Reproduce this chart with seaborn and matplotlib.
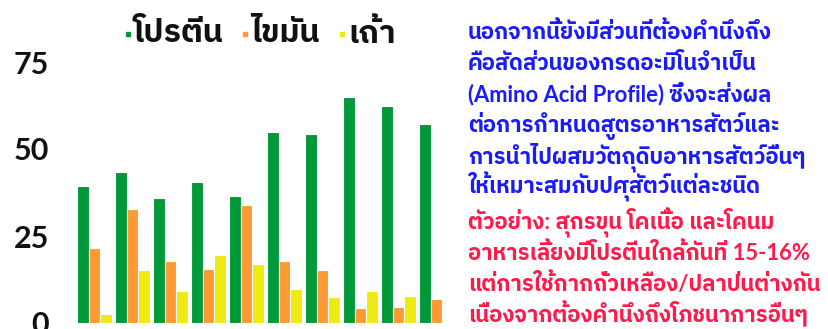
import numpy as np
import pandas as pd
import seaborn as sns
import matplotlib
matplotlib.use('Agg')
import matplotlib.pyplot as plt
from matplotlib import font_manager
from matplotlib.ft2font import FT2Font

# values (protein / fat / ash per feed item)
items = ['1', '2', '3', '4', '5', '6', '7', '8', '9', '10']
protein = [39.5, 43.3, 35.9, 40.4, 36.5, 54.9, 54.4, 65.0, 62.4, 57.2]
fat = [21.6, 32.8, 17.7, 15.4, 34.0, 17.7, 15.3, 4.4, 4.5, 6.8]
ash = [2.6, 15.2, 9.1, 19.4, 17.0, 9.7, 7.5, 9.1, 7.8, np.nan]
series_names = ['โปรตีน', 'ไขมัน', 'เถ้า']
series_colors = ['#00993a', '#ff9933', '#eeea12']
y_ticks = [0, 25, 50, 75]

blue_lines = ['นอกจากนี้ยังมีส่วนที่ต้องคำนึงถึง',
              'คือสัดส่วนของกรดอะมิโนจำเป็น',
              '(Amino Acid Profile) ซึ่งจะส่งผล',
              'ต่อการกำหนดสูตรอาหารสัตว์และ',
              'การนำไปผสมวัตถุดิบอาหารสัตว์อื่นๆ',
              'ให้เหมาะสมกับปศุสัตว์แต่ละชนิด']
red_lines = ['ตัวอย่าง: สุกรขุน โคเนื้อ และโคนม',
             'อาหารเลี้ยงมีโปรตีนใกล้กันที่ 15-16%',
             'แต่การใช้กากถั่วเหลือง/ปลาป่นต่างกัน',
             'เนื่องจากต้องคำนึงถึงโภชนาการอื่นๆ']


def find_thai_font():
    ''' look through installed fonts for one with Thai glyphs, sans preferred '''
    found = {}
    for f in font_manager.fontManager.ttflist:
        try:
            ft = FT2Font(f.fname)
            if ft.get_char_index(ord('ก')):
                found[f.name] = True
        except Exception:
            continue
    if not found:
        return None

    def rank(name):
        n = name.lower()
        score = 0
        if 'sans' in n:
            score -= 3
        for good in ['loma', 'garuda', 'umpush', 'waree', 'kanit', 'prompt', 'sarabun']:
            if good in n:
                score -= 2
        for bad in ['serif', 'kinnari', 'norasi', 'purisa', 'mono', 'typewriter', 'sawasdee']:
            if bad in n:
                score += 5
        return score

    return sorted(found, key=rank)[0]


sns.set_theme(style='white')
thai = find_thai_font()
fams = ['DejaVu Sans'] if thai is None else ['Lato', thai, 'DejaVu Sans']
plt.rcParams['font.family'] = fams

df = pd.DataFrame({'item': items * 3,
                   'value': protein + fat + ash,
                   'kind': np.repeat(series_names, len(items))})

fig = plt.figure(figsize=(8.29, 3.29), dpi=100)
ax = fig.add_axes([0.0, 0.0, 446.5 / 829, 1.0])

sns.barplot(data=df, x='item', y='value', hue='kind', palette=series_colors,
            saturation=1, width=0.94, edgecolor='white', linewidth=0.8,
            legend=False, ax=ax)

# map pixel geometry of the reference onto data limits
ax.set_xlim((0 - 94.5) / 38, (446.5 - 94.5) / 38)
ax.set_ylim(-(329 - 323) / 3.48, 323 / 3.48)
ax.set_yticks(y_ticks)
ax.set_yticklabels([str(t) for t in y_ticks], fontsize=22, fontweight='bold',
                   color='#111111')
ax.tick_params(axis='y', length=0, pad=0)
ax.set_xticks([])
ax.set_xlabel('')
ax.set_ylabel('')
sns.despine(ax=ax, left=True, bottom=True)
for lab in ax.get_yticklabels():
    lab.set_horizontalalignment('right')
    lab.set_x(49 / 446.5)

# legend at the top: small squares with big labels
leg_x = [126, 243, 340]
for x, name, col in zip(leg_x, series_names, series_colors):
    fig.patches.append(plt.Rectangle((x / 829, 1 - 36 / 329), 4 / 829, 4 / 329,
                                     color=col, transform=fig.transFigure))
    fig.text((x + 8) / 829, 1 - 33 / 329, name, fontsize=23, fontweight='bold',
             color='#111111', va='center', ha='left')

# explanatory text on the right, placed on baselines so lines stay even
for i, line in enumerate(blue_lines):
    fig.text(468 / 829, 1 - (39 + 31 * i) / 329, line, fontsize=15.8,
             fontweight='bold', color='#1a1aff', va='baseline', ha='left')
for i, line in enumerate(red_lines):
    fig.text(468 / 829, 1 - (229 + 31 * i) / 329, line, fontsize=15.8,
             fontweight='bold', color='#ff1a4a', va='baseline', ha='left')

fig.savefig('out.png', dpi=100)
